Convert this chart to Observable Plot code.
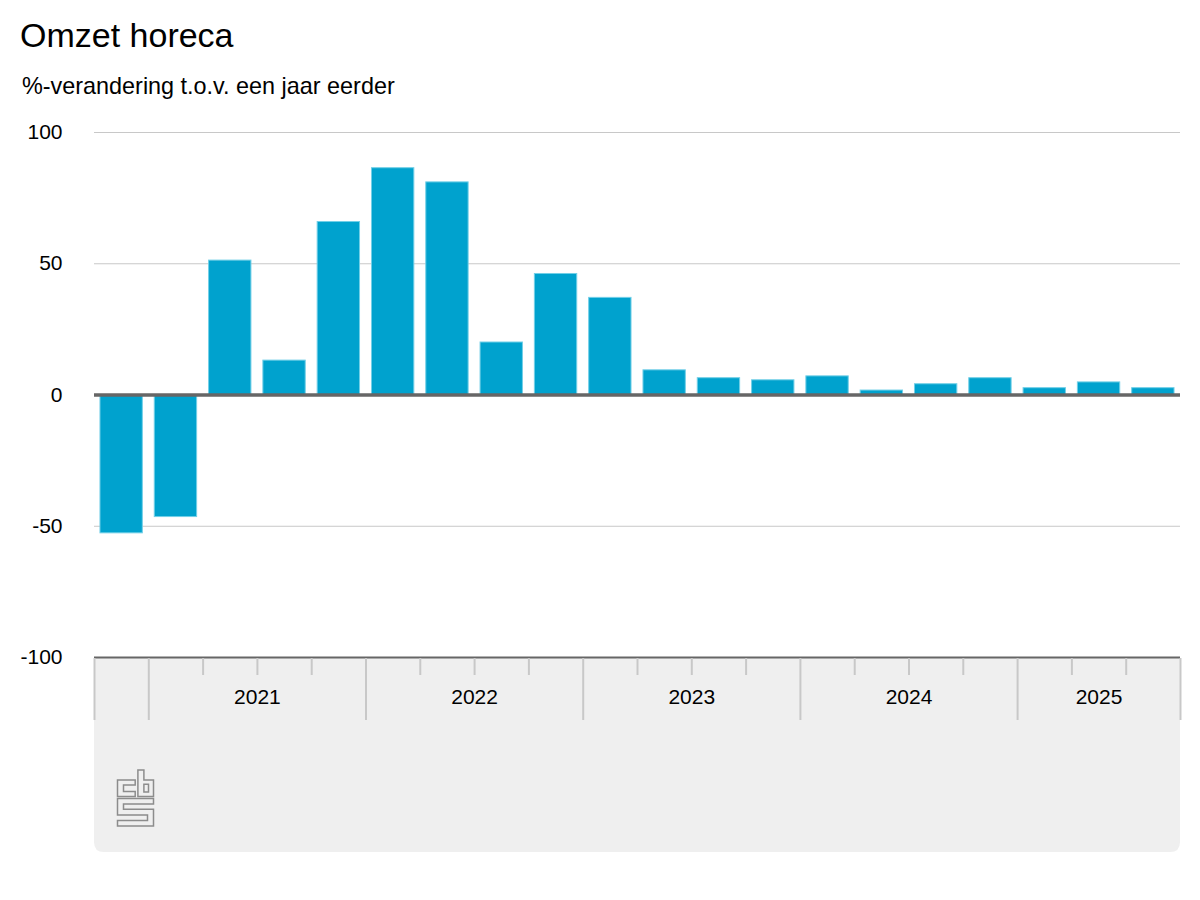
<!DOCTYPE html>
<html>
<head>
<meta charset="utf-8">
<script src="https://cdn.jsdelivr.net/npm/d3@7"></script>
<script src="https://cdn.jsdelivr.net/npm/@observablehq/plot@0.6"></script>
<style>
  html, body { margin: 0; padding: 0; background: #fff; }
  body { width: 1200px; height: 900px; font-family: "Liberation Sans", Arial, sans-serif; color: #000; }
  #header { position: relative; height: 110px; }
  #title { position: absolute; left: 20px; top: 18px; font-size: 34px; line-height: 34px; white-space: nowrap; }
  #subtitle { position: absolute; left: 22px; top: 75px; font-size: 23.4px; line-height: 23px; white-space: nowrap; }
  #chart svg { display: block; }
</style>
</head>
<body>
<div id="header">
  <div id="title">Omzet horeca</div>
  <div id="subtitle">%-verandering t.o.v. een jaar eerder</div>
</div>
<div id="chart"></div>
<script>
// ---- data ----
const quarters = [
  "2020 Q4",
  "2021 Q1", "2021 Q2", "2021 Q3", "2021 Q4",
  "2022 Q1", "2022 Q2", "2022 Q3", "2022 Q4",
  "2023 Q1", "2023 Q2", "2023 Q3", "2023 Q4",
  "2024 Q1", "2024 Q2", "2024 Q3", "2024 Q4",
  "2025 Q1", "2025 Q2", "2025 Q3"
];
const values = [
  -52.7,
  -46.5, 51.2, 13.1, 65.9,
  86.4, 81.0, 20.0, 46.1,
  37.0, 9.4, 6.4, 5.6,
  7.1, 1.7, 4.1, 6.4,
  2.6, 4.8, 2.6
];
const yTicks = [-100, -50, 0, 50, 100];
const gridValues = [-50, 50, 100];

// ---- layout ----
const W = 1200, H = 750;
const mL = 94, mR = 20, mT = 22, mB = 203;
const plotH = H - mT - mB;              // 525 px for 200 units
const pxPerUnit = plotH / 200;
const step = (W - mL - mR) / quarters.length;
const u = px => px / pxPerUnit;         // pixel offset -> y units

const data = quarters.map((q, i) => ({q, v: values[i], year: q.slice(0, 4), qn: +q.slice(-1)}));

// years and their quarter counts
const years = d3.groups(data, d => d.year).map(([year, rows]) => ({year, rows}));
const labelled = years.filter(d => d.rows.length >= 2);
const evenYears = labelled.filter(d => d.rows.length % 2 === 0)
  .map(d => ({year: d.year, q: d.rows[d.rows.length / 2 - 1].q}));
const oddYears = labelled.filter(d => d.rows.length % 2 === 1)
  .map(d => ({year: d.year, q: d.rows[(d.rows.length - 1) / 2].q}));

// left-edge boundary ticks for each quarter (long at year start / chart start)
const edgeTicks = data.map((d, i) => ({q: d.q, long: i === 0 || d.qn === 1}));
const lastQ = quarters[quarters.length - 1];

const tickColor = "#c8c8c8";
const yAxisBase = -100;

function panel(index, scales, vals, dims) {
  const {width, height, marginLeft, marginRight, marginBottom} = dims;
  const x0 = marginLeft, x1 = width - marginRight;
  const y0 = height - marginBottom, y1 = height - 8;
  const r = 10;
  const g = d3.create("svg:g");
  g.append("path")
    .attr("d", `M${x0},${y0}H${x1}V${y1 - r}Q${x1},${y1} ${x1 - r},${y1}H${x0 + r}Q${x0},${y1} ${x0},${y1 - r}Z`)
    .attr("fill", "#efefef");
  // CBS logo (decorative outline)
  const logo = g.append("g")
    .attr("transform", `translate(${x0 + 23.5},${y0 + 113})`)
    .attr("fill", "none")
    .attr("stroke", "#8c8c8c")
    .attr("stroke-width", 1.5)
    .attr("stroke-linejoin", "miter");
  logo.append("path").attr("d", "M0,10H17.7V15H6V21.6H17.7V26.6H0Z");
  logo.append("path").attr("d", "M20.4,0H26.4V10H36V26.6H20.4Z");
  logo.append("path").attr("d", "M26.4,14.3H31V22H26.4Z");
  logo.append("path").attr("d", "M0,28.6H36V34H6V39.2H36V56H0V50.6H30V45H0Z");
  return g.node();
}

const chart = Plot.plot({
  width: W,
  height: H,
  marginLeft: mL,
  marginRight: mR,
  marginTop: mT,
  marginBottom: mB,
  style: {background: "transparent", fontFamily: "'Liberation Sans', Arial, sans-serif", fontSize: "21px", color: "#000", overflow: "visible"},
  x: {type: "band", domain: quarters, paddingInner: 0.22, paddingOuter: 0.11, round: false, axis: null},
  y: {domain: [-100, 100], axis: null},
  marks: [
    panel,
    Plot.ruleY(gridValues, {stroke: "#c8c8c8", strokeWidth: 1}),
    Plot.barY(data, {x: "q", y: "v", fill: "#00a2ce", stroke: "#72cfe7", strokeWidth: 1}),
    Plot.ruleY([0], {stroke: "#666666", strokeWidth: 3.5}),
    Plot.ruleY([yAxisBase], {stroke: "#666666", strokeWidth: 2}),
    // quarter / year boundary ticks
    Plot.ruleX(edgeTicks, {
      x: "q",
      y1: yAxisBase - u(1),
      y2: d => yAxisBase - u(d.long ? 63 : 18),
      dx: -step / 2,
      stroke: tickColor,
      strokeWidth: 2
    }),
    Plot.ruleX([lastQ], {
      x: d => d,
      y1: yAxisBase - u(1),
      y2: yAxisBase - u(63),
      dx: step / 2,
      stroke: tickColor,
      strokeWidth: 2
    }),
    // year labels
    Plot.text(evenYears, {x: "q", y: yAxisBase - u(40), text: "year", dx: step / 2, fontSize: 21, fill: "#000"}),
    Plot.text(oddYears, {x: "q", y: yAxisBase - u(40), text: "year", fontSize: 21, fill: "#000"}),
    // y axis labels
    Plot.axisY({ticks: yTicks, tickSize: 0, tickPadding: 32, tickFormat: d => String(d), label: null, fontSize: 21})
  ]
});
document.getElementById("chart").appendChild(chart);
</script>
</body>
</html>
